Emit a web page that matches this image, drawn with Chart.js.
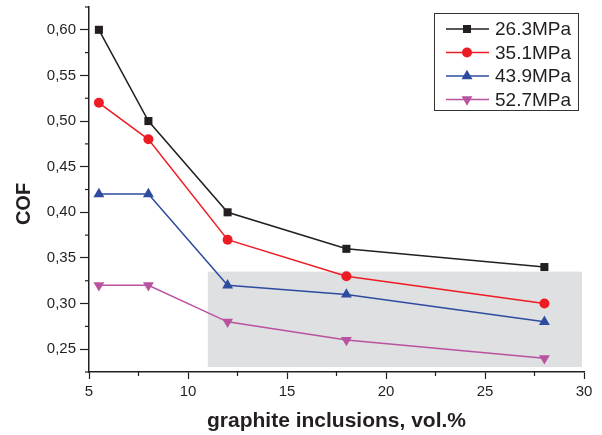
<!DOCTYPE html>
<html lang="en">
<head>
    <meta charset="UTF-8">
    <title>COF vs graphite inclusions</title>
    <script src="https://cdn.jsdelivr.net/npm/chart.js@4"></script>
    <style>
        html, body { margin: 0; padding: 0; background: #fff; }
    </style>
</head>
<body>
    <canvas id="myChart" width="602" height="435"></canvas>

    <script>
        // graphite content, vol.%
        const graphite = [5.5, 8, 12, 18, 28];

        const labels = ['26.3MPa', '35.1MPa', '43.9MPa', '52.7MPa'];
        const cof263 = [0.60, 0.50, 0.40, 0.36, 0.34];
        const cof351 = [0.52, 0.48, 0.37, 0.33, 0.30];
        const cof439 = [0.42, 0.42, 0.32, 0.31, 0.28];
        const cof527 = [0.32, 0.32, 0.28, 0.26, 0.24];

        // gray band
        const bandX = [11, 29.9];
        const bandY = [0.2305, 0.335];

        const ink = '#231f20';
        const fontName = '"Liberation Sans", Arial, sans-serif';

        function pts(ys) {
            return graphite.map((x, i) => ({ x: x, y: ys[i] }));
        }

        function mkSet(label, ys, color, style, radius, rotation) {
            return {
                label: label,
                data: pts(ys),
                borderColor: color,
                backgroundColor: color,
                borderWidth: 1.5,
                pointStyle: style,
                pointRadius: radius,
                pointHoverRadius: radius,
                pointRotation: rotation,
                pointBorderWidth: 0,
                tension: 0
            };
        }

        const data = {
            datasets: [
                mkSet(labels[0], cof263, '#231f20', 'rect', 5.7, 0),
                mkSet(labels[1], cof351, '#ed1c24', 'circle', 5, 0),
                mkSet(labels[2], cof439, '#2e4c9f', 'triangle', 6.3, 0),
                mkSet(labels[3], cof527, '#b9529f', 'triangle', 6.3, 180)
            ]
        };

        const isMajorX = v => Math.abs(v / 5 - Math.round(v / 5)) < 1e-6;
        const isMajorY = v => Math.round(v * 1000) % 50 === 0;

        // gray rectangle behind the lines
        const bandPlugin = {
            id: 'band',
            beforeDatasetsDraw(chart) {
                const { ctx, scales } = chart;
                const x0 = scales.x.getPixelForValue(bandX[0]);
                const x1 = scales.x.getPixelForValue(bandX[1]);
                const y0 = scales.y.getPixelForValue(bandY[1]);
                const y1 = scales.y.getPixelForValue(bandY[0]);
                ctx.save();
                ctx.fillStyle = '#dfe0e2';
                ctx.fillRect(x0, y0, x1 - x0, y1 - y0);
                ctx.restore();
            }
        };

        // minor ticks, axis titles, boxed legend
        const extrasPlugin = {
            id: 'extras',
            afterDraw(chart) {
                const { ctx, scales, chartArea } = chart;
                ctx.save();
                ctx.strokeStyle = ink;
                ctx.lineWidth = 1.2;
                scales.x.ticks.forEach(t => {
                    if (isMajorX(t.value)) return;
                    const px = scales.x.getPixelForValue(t.value);
                    ctx.beginPath();
                    ctx.moveTo(px, chartArea.bottom);
                    ctx.lineTo(px, chartArea.bottom + 4);
                    ctx.stroke();
                });
                scales.y.ticks.forEach(t => {
                    if (isMajorY(t.value)) return;
                    const py = scales.y.getPixelForValue(t.value);
                    ctx.beginPath();
                    ctx.moveTo(chartArea.left, py);
                    ctx.lineTo(chartArea.left - 4, py);
                    ctx.stroke();
                });

                // axis titles
                ctx.fillStyle = ink;
                ctx.font = 'bold 21px ' + fontName;
                ctx.textAlign = 'center';
                ctx.textBaseline = 'middle';
                ctx.fillText('graphite inclusions, vol.%', (chartArea.left + chartArea.right) / 2, 421);
                ctx.font = 'bold 20px ' + fontName;
                ctx.save();
                ctx.translate(24, 204);
                ctx.rotate(-Math.PI / 2);
                ctx.fillText('COF', 0, 0);
                ctx.restore();

                // legend
                const bw = 144, bh = 97;
                const bx = chartArea.right - 6 - bw;
                const by = 13;
                ctx.strokeStyle = '#333';
                ctx.lineWidth = 1;
                ctx.strokeRect(bx + 0.5, by + 0.5, bw, bh);
                ctx.font = '19px ' + fontName;
                ctx.textAlign = 'left';
                chart.data.datasets.forEach((ds, i) => {
                    const y = by + 16 + i * 23.5;
                    ctx.strokeStyle = ds.borderColor;
                    ctx.lineWidth = 1.5;
                    ctx.beginPath();
                    ctx.moveTo(bx + 12, y);
                    ctx.lineTo(bx + 55, y);
                    ctx.stroke();
                    ctx.fillStyle = ds.backgroundColor;
                    Chart.helpers.drawPoint(ctx, {
                        pointStyle: ds.pointStyle,
                        radius: ds.pointRadius,
                        rotation: ds.pointRotation,
                        borderWidth: 0
                    }, bx + 33, y);
                    ctx.fillStyle = ink;
                    ctx.fillText(ds.label, bx + 61, y + 1);
                });
                ctx.restore();
            }
        };

        const config = {
            type: 'line',
            data: data,
            options: {
                responsive: false,
                animation: false,
                devicePixelRatio: 1,
                layout: { padding: { top: 7, right: 18, left: 0, bottom: 0 } },
                plugins: {
                    legend: { display: false },
                    tooltip: { enabled: false }
                },
                scales: {
                    x: {
                        type: 'linear',
                        min: 5,
                        max: 30,
                        ticks: {
                            stepSize: 2.5,
                            autoSkip: false,
                            maxRotation: 0,
                            padding: 4,
                            color: ink,
                            font: { family: fontName, size: 15 },
                            callback: v => isMajorX(v) ? String(Math.round(v)) : ''
                        },
                        grid: {
                            drawOnChartArea: false,
                            tickLength: 7,
                            tickWidth: 1.2,
                            tickColor: c => (c.tick && isMajorX(c.tick.value)) ? ink : 'rgba(0,0,0,0)'
                        },
                        border: { color: ink, width: 1.5 },
                        afterFit: s => { s.height = 63; s.paddingLeft = 0; s.paddingRight = 0; }
                    },
                    y: {
                        min: 0.225,
                        max: 0.625,
                        ticks: {
                            stepSize: 0.025,
                            autoSkip: false,
                            padding: 4,
                            color: ink,
                            font: { family: fontName, size: 15 },
                            callback: v => isMajorY(v) ? v.toFixed(2).replace('.', ',') : ''
                        },
                        grid: {
                            drawOnChartArea: false,
                            tickLength: 9,
                            tickWidth: 1.2,
                            tickColor: c => (c.tick && isMajorY(c.tick.value)) ? ink : 'rgba(0,0,0,0)'
                        },
                        border: { color: ink, width: 1.5 },
                        afterFit: s => { s.width = 89; s.paddingTop = 0; s.paddingBottom = 0; }
                    }
                }
            },
            plugins: [bandPlugin, extrasPlugin]
        };

        const myChart = new Chart(document.getElementById('myChart').getContext('2d'), config);
    </script>
</body>
</html>
